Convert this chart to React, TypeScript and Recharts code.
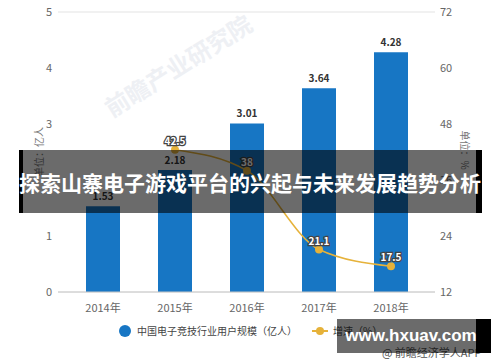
import React from 'react';
import { ComposedChart, Bar, Line, XAxis, YAxis, CartesianGrid, LabelList, Legend } from 'recharts';

const categories = ['2014年', '2015年', '2016年', '2017年', '2018年'];
const users = [1.53, 2.18, 3.01, 3.64, 4.28];
const growth: (number | null)[] = [null, 42.5, 38, 21.1, 17.5];
const leftTicks = [0, 1, 2, 3, 4, 5];
const rightTicks = [12, 24, 36, 48, 60, 72];

const BLUE = '#1776c4';
const GOLD = '#e6b23a';

const data = categories.map((c, i) => ({ name: c, users: users[i], growth: growth[i] }));

const LegendContent = () => (
  <div style={{ position: 'relative', height: 20 }}>
    <svg width={500} height={20} style={{ position: 'absolute', left: 0, top: 0 }}>
      <circle cx={125} cy={10} r={6} fill={BLUE} />
      <text x={137} y={14} fontSize={10} fill="#444" fontFamily='"Noto Sans CJK SC", sans-serif'>中国电子竞技行业用户规模（亿人）</text>
      <line x1={312} x2={328} y1={10} y2={10} stroke={GOLD} strokeWidth={2} />
      <circle cx={320} cy={10} r={4} fill={GOLD} />
      <text x={333} y={14} fontSize={10} fill="#444" fontFamily='"Noto Sans CJK SC", sans-serif'>增速（%）</text>
    </svg>
  </div>
);

export default function App() {
  return (
    <div style={{ position: 'absolute', left: 0, top: 0, width: 500, height: 362, background: '#fff', overflow: 'hidden', fontFamily: '"Noto Sans CJK SC", "Noto Sans", sans-serif' }}>
      <ComposedChart width={500} height={362} data={data} margin={{ top: 12, right: 0, bottom: 30, left: 0 }}>
        <text x={112} y={118} transform="rotate(-32 112 118)" fontSize={24} fontWeight="bold" fill="#eef0f4" fontFamily='"Noto Sans CJK SC", sans-serif'>前瞻产业研究院</text>
        <CartesianGrid vertical={false} stroke="#e3e3e3" />
        <XAxis
          dataKey="name"
          height={20}
          padding={{ left: 9, right: 8 }}
          tickLine={false}
          axisLine={{ stroke: '#c8c8c8' }}
          tick={{ fontSize: 11, fill: '#666' }}
          tickMargin={6}
        />
        <YAxis
          yAxisId="left"
          width={58}
          domain={[0, 5]}
          ticks={leftTicks}
          tickLine={false}
          axisLine={false}
          tickSize={0}
          tickMargin={6}
          tick={{ fontSize: 11, fill: '#666' }}
          label={{ value: '单位：亿人', angle: -90, position: 'center', dx: 10, fontSize: 10, fill: '#777' }}
        />
        <YAxis
          yAxisId="right"
          orientation="right"
          width={65}
          domain={[12, 72]}
          ticks={rightTicks}
          tickLine={false}
          axisLine={false}
          tickSize={0}
          tickMargin={5}
          tick={{ fontSize: 11, fill: '#666' }}
          label={{ value: '单位：%', angle: 90, position: 'center', dx: -3, dy: -2, fontSize: 10, fill: '#777' }}
        />
        <Legend verticalAlign="bottom" height={20} content={<LegendContent />} wrapperStyle={{ left: 0, top: 321, width: 500 }} />
        <Bar yAxisId="left" dataKey="users" fill={BLUE} barSize={34} isAnimationActive={false} legendType="circle" name="中国电子竞技行业用户规模（亿人）">
          <LabelList dataKey="users" position="top" offset={6} fontSize={10} fontWeight="bold" fill="#333" formatter={(v: number) => v.toFixed(2)} />
        </Bar>
        <Line
          yAxisId="right"
          type="monotone"
          dataKey="growth"
          name="增速（%）"
          stroke={GOLD}
          strokeWidth={1.5}
          dot={{ r: 4, fill: GOLD, stroke: GOLD, strokeWidth: 0 }}
          activeDot={false}
          connectNulls
          isAnimationActive={false}
        >
          <LabelList dataKey="growth" position="top" offset={5} fontSize={10} fontWeight="bold" fill="#fff" stroke="#444" strokeWidth={2.5} paintOrder="stroke" />
        </Line>
      </ComposedChart>
      <div style={{ position: 'absolute', left: 382, top: 344, fontSize: 11, color: '#555', whiteSpace: 'nowrap' }}>@ 前瞻经济学人APP</div>
      <div style={{ position: 'absolute', left: 19, top: 150, width: 463, height: 63, boxSizing: 'border-box', borderLeft: '4px solid #000', borderRight: '6px solid #000', background: 'rgba(0,0,0,0.58)' }} />
      <div style={{ position: 'absolute', left: 0, top: 150, width: 500, height: 63, display: 'flex', alignItems: 'center', justifyContent: 'center', color: '#fff', fontSize: 21, fontWeight: 'bold', whiteSpace: 'nowrap', fontFamily: '"Noto Sans CJK SC", sans-serif' }}>
        探索山寨电子游戏平台的兴起与未来发展趋势分析
      </div>
      <div style={{ position: 'absolute', left: 337, top: 319, width: 154, height: 34, boxSizing: 'border-box', borderRight: '15px solid #000', background: 'rgba(0,0,0,0.58)' }} />
      <div style={{ position: 'absolute', left: 337, top: 319, width: 148, height: 34, display: 'flex', alignItems: 'center', justifyContent: 'center', color: '#fff', fontSize: 17, fontWeight: 'bold', fontFamily: '"Liberation Sans", Arial, sans-serif', whiteSpace: 'nowrap' }}>
        www.hxuav.com
      </div>
    </div>
  );
}
